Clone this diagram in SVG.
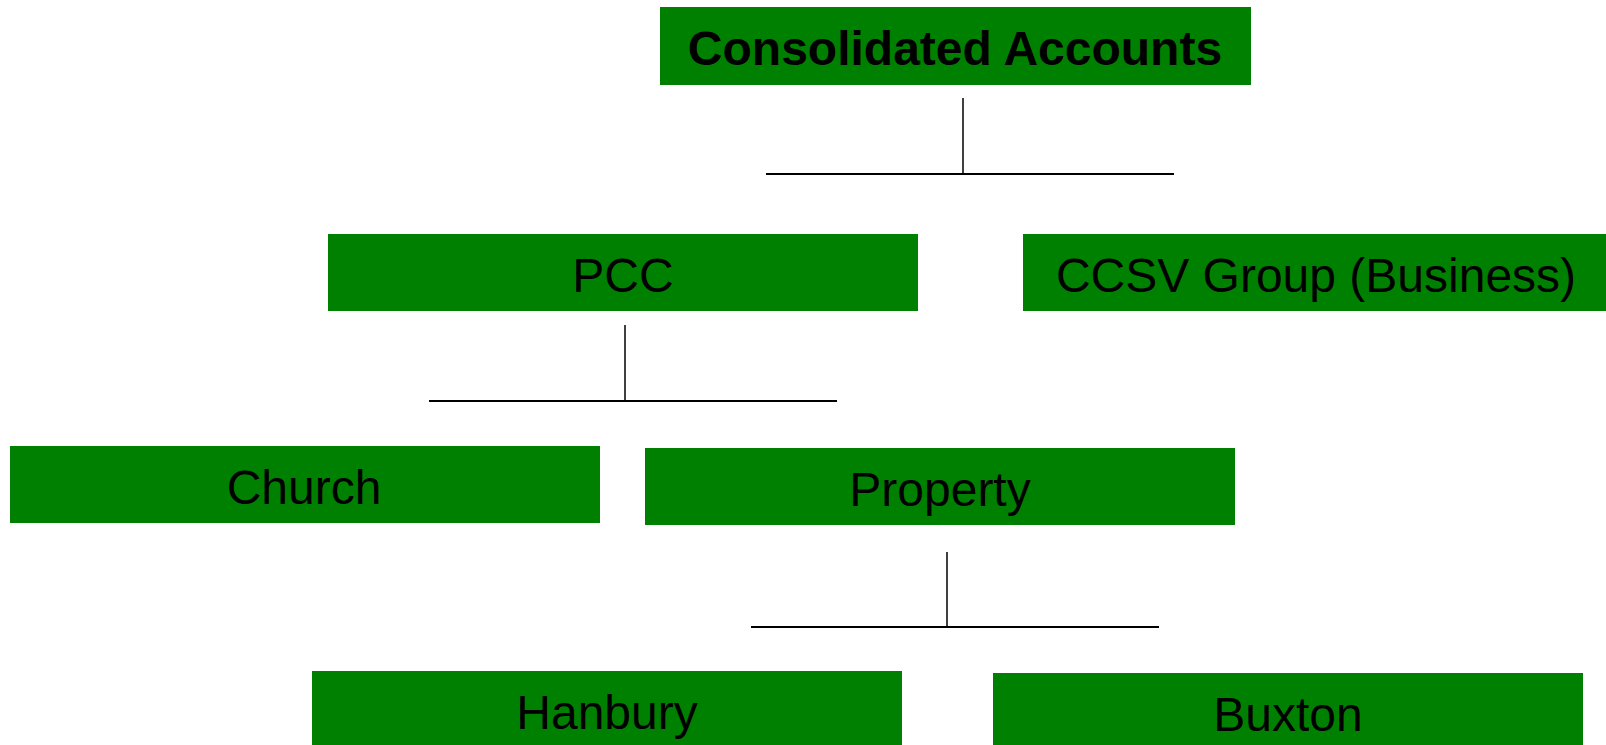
<svg xmlns="http://www.w3.org/2000/svg" width="1606" height="745" viewBox="0 0 1606 745">
<style>
.box{fill:#008000}
.t{font-family:"Liberation Sans",Arial,sans-serif;font-size:48px;fill:#000;text-anchor:middle}
.b{font-weight:bold}
.c{stroke:#000;fill:none}
.h{stroke-width:2}
.v{stroke-width:1.5}
</style>
<rect width="1606" height="745" fill="#fff"/>
<g id="connectors">
<line class="c v" x1="963" y1="98" x2="963" y2="174"/>
<line class="c h" x1="766" y1="174" x2="1174" y2="174"/>
<line class="c v" x1="625" y1="325" x2="625" y2="401"/>
<line class="c h" x1="429" y1="401" x2="837" y2="401"/>
<line class="c v" x1="947" y1="552" x2="947" y2="627"/>
<line class="c h" x1="751" y1="627" x2="1159" y2="627"/>
</g>
<g id="consolidated"><rect class="box" x="660" y="7" width="591" height="78"/><text class="t b" x="955" y="65">Consolidated Accounts</text></g>
<g id="pcc"><rect class="box" x="328" y="234" width="590" height="77"/><text class="t" x="623" y="292">PCC</text></g>
<g id="ccsv"><rect class="box" x="1023" y="234" width="590" height="77"/><text class="t" x="1316" y="292">CCSV Group (Business)</text></g>
<g id="church"><rect class="box" x="10" y="446" width="590" height="77"/><text class="t" x="304" y="504">Church</text></g>
<g id="property"><rect class="box" x="645" y="448" width="590" height="77"/><text class="t" x="940" y="506">Property</text></g>
<g id="hanbury"><rect class="box" x="312" y="671" width="590" height="77"/><text class="t" x="607" y="729">Hanbury</text></g>
<g id="buxton"><rect class="box" x="993" y="673" width="590" height="77"/><text class="t" x="1288" y="731">Buxton</text></g>
</svg>
